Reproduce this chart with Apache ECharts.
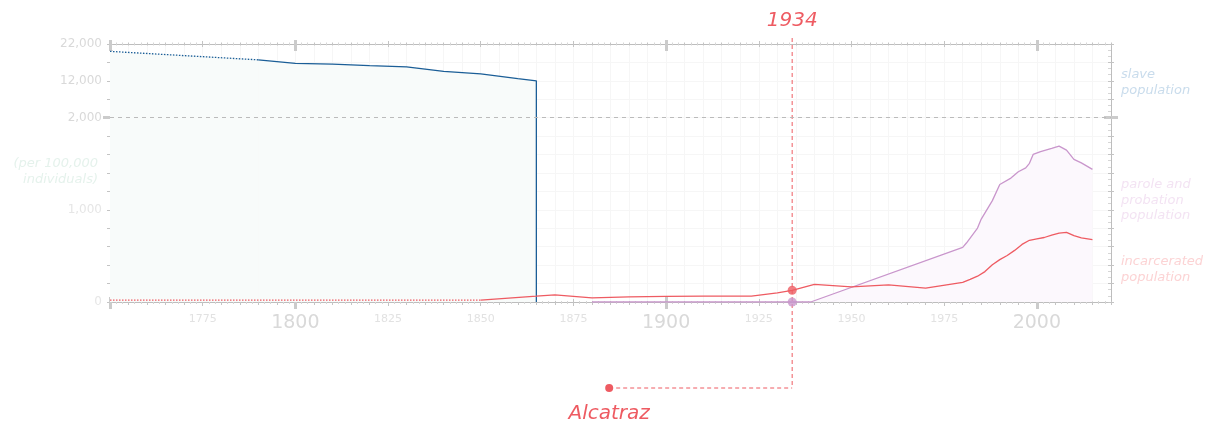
<!DOCTYPE html>
<html lang="en">
<head>
  <meta charset="UTF-8">
  <title>slavery, incarceration, parole</title>
  <script src="https://cdn.jsdelivr.net/npm/echarts@6/dist/echarts.min.js"></script>
  <style>
    html, body { margin: 0; padding: 0; background: #fff; }
  </style>
</head>
<body>
<div id="box" style="width: 1211px;height: 428px;"></div>
<script>
  // data (per 100,000 individuals)
  var slaveYearsEst = [1750, 1790];
  var slaveEst = [20000, 17700];
  var slaveYears = [1790, 1800, 1810, 1820, 1830, 1840, 1850, 1860, 1865, 1865];
  var slaveRate = [17700, 16760, 16540, 16140, 15790, 14600, 13890, 12620, 12000, 0];

  var incarcYearsEst = [1750, 1850];
  var incarcEst = [20, 20];
  var incarcYears = [1850, 1865, 1870, 1880, 1890, 1900, 1910, 1923, 1930, 1934, 1940, 1950, 1960, 1970,
    1980, 1982, 1984, 1986, 1988, 1990, 1992, 1994, 1996, 1998, 2000, 2002, 2004, 2006, 2008, 2010, 2012, 2015];
  var incarcRate = [20, 63, 78, 45, 55, 62, 63, 63, 100, 127, 192, 164, 186, 150,
    214, 245, 280, 330, 405, 460, 505, 560, 625, 670, 686, 700, 725, 748, 755, 720, 695, 676];

  var paroleYears = [1880, 1939, 1980, 1981, 1984, 1985, 1988, 1990, 1993, 1995, 1997, 1998, 1999,
    2001, 2004, 2006, 2008, 2010, 2012, 2015];
  var paroleRate = [0, 0, 593, 640, 802, 900, 1100, 1275, 1345, 1414, 1455, 1505, 1602,
    1632, 1667, 1692, 1649, 1548, 1510, 1440];

  var eventYear = 1934;
  var eventText = 'Alcatraz';

  var smallYearLabels = [1775, 1825, 1850, 1875, 1925, 1950, 1975];
  var bigYearLabels = [1800, 1900, 2000];
  var bigYearTicks = [1750, 1800, 1900, 2000];
  var yTickLabels = [0, 1000, 2000, 12000, 22000];

  var X_MIN = 1750, X_MAX = 2020;
  var RED = '#ee5b62', BLUE = '#1b5e97', PURPLE = '#c996cc';

  // y scale: linear to 2,000, then compressed 25x above
  function toDisp(v) { return v <= 2000 ? v : 2000 + (v - 2000) / 25; }
  function fromDisp(d) { return d <= 2000 ? d : 2000 + (d - 2000) * 25; }
  function pairs(xs, ys) { return xs.map(function (x, i) { return [x, toDisp(ys[i])]; }); }
  function fmt(n) { return String(Math.round(n)).replace(/\B(?=(\d{3})+(?!\d))/g, ','); }

  var myChart = echarts.init(document.getElementById('box'));

  function ax(o) {
    var base = {
      type: 'value', gridIndex: 0,
      axisLine: {show: false, onZero: false}, axisLabel: {show: false},
      axisTick: {show: false}, splitLine: {show: false}, minorTick: {show: false}
    };
    var out = Object.assign(base, o);
    out.axisLine = Object.assign({onZero: false}, out.axisLine);
    return out;
  }
  function xAx(o) { return ax(Object.assign({min: X_MIN, max: X_MAX, interval: 5}, o)); }
  function yAx(o) { return ax(Object.assign({min: 0, max: toDisp(22000), interval: 200}, o)); }

  var lineAxis = {show: true, lineStyle: {color: '#bdbdbd', width: 1}};
  var thinTick = function (len) { return {show: true, length: len, lineStyle: {color: '#c4c4c4', width: 1}}; };
  var minor = {show: true, splitNumber: 3, length: 3, lineStyle: {color: '#d6d6d6', width: 1}};
  var thick = function (len) {
    return {show: true, length: len, customValues: bigYearTicks, lineStyle: {color: '#cbcbcb', width: 3}};
  };
  var yearFmt = function (v) { return String(v); };

  var xAxes = [
    // bottom
    xAx({position: 'bottom', axisLine: lineAxis, splitLine: {show: true, lineStyle: {color: '#f6f6f6'}}}),
    xAx({position: 'bottom', offset: -1, axisTick: thinTick(4), minorTick: minor}),
    xAx({position: 'bottom', offset: -3, axisTick: Object.assign(thinTick(7), {customValues: smallYearLabels}),
      axisLabel: {show: true, customValues: smallYearLabels, formatter: yearFmt, margin: 15,
        fontSize: 11, color: '#e2e2e2', fontFamily: 'DejaVu Sans'}}),
    xAx({position: 'bottom', offset: -5, axisTick: thick(12),
      axisLabel: {show: true, customValues: bigYearLabels, formatter: yearFmt, margin: 17,
        fontSize: 19, color: '#d9d9d9', fontFamily: 'DejaVu Sans'}}),
    // top
    xAx({position: 'top', axisLine: lineAxis}),
    xAx({position: 'top', offset: -1.5, axisTick: thinTick(3), minorTick: minor}),
    xAx({position: 'top', offset: -3, axisTick: Object.assign(thinTick(6), {customValues: smallYearLabels})}),
    xAx({position: 'top', offset: -7, axisTick: thick(11)})
  ];

  var yAxes = [
    // left
    yAx({position: 'left', axisLine: lineAxis, splitLine: {show: true, lineStyle: {color: '#f6f6f6'}}}),
    yAx({position: 'left', offset: -3, axisTick: thinTick(6), minorTick: minor}),
    yAx({position: 'left', axisLabel: {
      show: true, customValues: yTickLabels.map(toDisp), margin: 8, fontSize: 12, fontFamily: 'DejaVu Sans',
      formatter: function (d) {
        var v = fromDisp(d);
        return v >= 2000 ? '{a|' + fmt(v) + '}' : '{b|' + fmt(v) + '}';
      },
      rich: {a: {color: '#d9d9d9', fontSize: 12}, b: {color: '#e6e6e6', fontSize: 12}}
    }}),
    yAx({position: 'left', offset: -8, axisTick: {show: true, length: 15, customValues: [toDisp(2000)],
      lineStyle: {color: '#cbcbcb', width: 3}}}),
    // right
    yAx({position: 'right', axisLine: lineAxis}),
    yAx({position: 'right', offset: -3, axisTick: thinTick(6), minorTick: minor}),
    yAx({position: 'right', offset: -7, axisTick: {show: true, length: 14, customValues: [toDisp(2000)],
      lineStyle: {color: '#cbcbcb', width: 3}}})
  ];

  var eventRate = incarcRate[incarcYears.indexOf(eventYear)];

  var option = {
    animation: false,
    grid: {left: 110, right: 100, top: 44, bottom: 126},
    xAxis: xAxes,
    yAxis: yAxes,
    series: [
      {
        name: 'slave population (est.)', type: 'line', data: pairs(slaveYearsEst, slaveEst),
        symbol: 'none', lineStyle: {color: BLUE, width: 1.3, type: [1.5, 1.5]},
        areaStyle: {color: '#f8fbfa', opacity: 1}, z: 3,
        markLine: {
          silent: true, symbol: 'none', label: {show: false},
          lineStyle: {color: '#bbbbbb', type: [4, 4], width: 1},
          data: [{yAxis: toDisp(2000)}]
        }
      },
      {
        name: 'slave population', type: 'line', data: pairs(slaveYears, slaveRate),
        symbol: 'none', lineStyle: {color: BLUE, width: 1.3},
        areaStyle: {color: '#f8fbfa', opacity: 1}, z: 3
      },
      {
        name: 'parole and probation population', type: 'line', data: pairs(paroleYears, paroleRate),
        symbol: 'none', lineStyle: {color: PURPLE, width: 1.3},
        areaStyle: {color: '#fcf8fd', opacity: 1}, z: 3
      },
      {
        name: 'incarcerated population (est.)', type: 'line', data: pairs(incarcYearsEst, incarcEst),
        symbol: 'none', lineStyle: {color: RED, width: 1.3, type: [1.5, 1.5]}, z: 4
      },
      {
        name: 'incarcerated population', type: 'line', data: pairs(incarcYears, incarcRate),
        symbol: 'none', lineStyle: {color: RED, width: 1.3}, z: 4
      },
      {
        type: 'scatter', symbolSize: 9, z: 6,
        data: [
          {value: [eventYear, toDisp(eventRate)], itemStyle: {color: RED}},
          {value: [eventYear, 0], itemStyle: {color: PURPLE}}
        ]
      }
    ]
  };
  myChart.setOption(option);

  // annotation and side labels, placed from the chart's own scale
  var ex = myChart.convertToPixel({xAxisIndex: 0, yAxisIndex: 0}, [eventYear, 0])[0];
  var gridTop = 44, elbowY = 388, noteX = ex - 183;
  var sideFont = 'italic 13px "DejaVu Sans"';
  myChart.setOption({
    graphic: [
      {type: 'line', shape: {x1: ex, y1: gridTop - 6, x2: ex, y2: elbowY},
        style: {stroke: RED, lineWidth: 1, lineDash: [4, 3]}, z: 1},
      {type: 'line', shape: {x1: noteX, y1: elbowY, x2: ex, y2: elbowY},
        style: {stroke: RED, lineWidth: 1, lineDash: [4, 3]}, z: 1},
      {type: 'circle', shape: {cx: noteX, cy: elbowY, r: 4}, style: {fill: RED}, z: 2},
      {type: 'text', x: ex, y: 21, style: {text: String(eventYear), fill: RED,
        font: 'italic 20px "DejaVu Sans"', textAlign: 'center', textVerticalAlign: 'middle'}},
      {type: 'text', x: noteX, y: 414, style: {text: eventText, fill: RED,
        font: 'italic 20px "DejaVu Sans"', textAlign: 'center', textVerticalAlign: 'middle'}},
      {type: 'text', x: 1121, y: 67, style: {text: 'slave\npopulation', fill: '#c9dcec',
        font: sideFont, lineHeight: 16, textAlign: 'left', textVerticalAlign: 'top'}},
      {type: 'text', x: 1121, y: 177, style: {text: 'parole and\nprobation\npopulation', fill: '#f3e3f3',
        font: sideFont, lineHeight: 15.5, textAlign: 'left', textVerticalAlign: 'top'}},
      {type: 'text', x: 1121, y: 254, style: {text: 'incarcerated\npopulation', fill: '#fcd3d4',
        font: sideFont, lineHeight: 16, textAlign: 'left', textVerticalAlign: 'top'}},
      {type: 'text', x: 98, y: 155, style: {text: '(per 100,000\nindividuals)', fill: '#e5f2ec',
        font: sideFont, lineHeight: 16.5, textAlign: 'right', textVerticalAlign: 'top'}}
    ]
  });
</script>
</body>
</html>
